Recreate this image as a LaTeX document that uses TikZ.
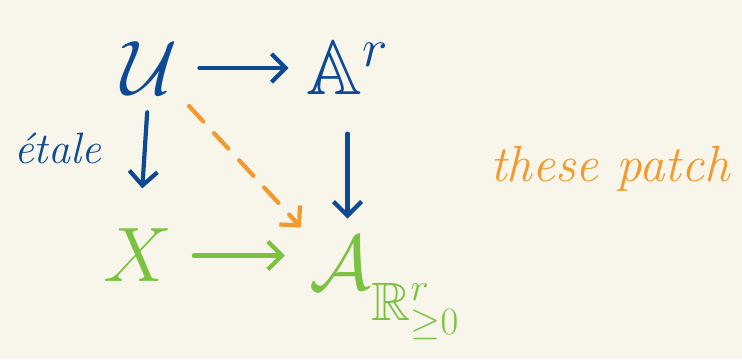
\documentclass[tikz,border=0pt]{standalone}
\usepackage{fix-cm}
\usepackage{fontspec}
\usepackage{amssymb}
\usepackage{xcolor}
\usepackage{tikz}
\usetikzlibrary{positioning,arrows.meta}
\definecolor{paper}{HTML}{F8F6EA}
\definecolor{inkblue}{HTML}{0E4A94}
\definecolor{inkgreen}{HTML}{7CC242}
\definecolor{inkorange}{HTML}{F29A2E}
\tikzset{
  object/.style={inner sep=2pt, font=\fontsize{44}{50}\selectfont},
  arrow/.style={line width=2.4pt, line cap=round, -{Straight Barb[length=8pt,width=16pt]}},
  dasharrow/.style={arrow, dash pattern=on 12pt off 9pt},
  annotation/.style={font=\fontsize{25}{30}\selectfont\itshape}
}

\begin{document}
\begin{tikzpicture}[node distance=3.75cm and 3.95cm, on grid]
  \fill[paper] (0,0) rectangle (14.84,7.18);
  \useasboundingbox (0,0) rectangle (14.84,7.18);
  % Nodes
  \node (U) [object, text=inkblue] at (3.0,5.82) {$\mathcal{U}$};
  \node (Ar) [object, text=inkblue, right=of U] {$\mathbb{A}^{r}$};
  \node (X) [object, text=inkgreen, below=of U, xshift=-0.24cm] {$X$};
  \node (calA) [object, text=inkgreen, below=4.4cm of Ar, xshift=0.75cm]
    {$\mathcal{A}_{\raisebox{-11pt}{$\scriptstyle\mathbb{R}^{r}_{\geq 0}$}}$};

  % Arrows
  \draw [arrow, inkblue, shorten <=10pt, shorten >=8pt] (U) -- (Ar);
  \draw [arrow, inkblue, shorten <=8pt, shorten >=21pt] (U) -- (X);
  \draw [arrow, inkblue, shorten <=20pt, shorten >=8pt] (Ar) -- (Ar |- calA.north);
  \draw [arrow, inkgreen, shorten <=10pt, shorten >=12pt] (X) -- (X -| calA.west);
  \draw [dasharrow, inkorange, shorten <=6pt, shorten >=4pt] (U.south east) -- (calA.north west);

  % Annotations
  \node (etale) [annotation, text=inkblue, left=1.85cm of U, yshift=-1.6cm] {étale};
  \node (patch) [annotation, text=inkorange, font=\fontsize{29}{34}\selectfont\itshape] at (12.2,3.8) {these patch};
\end{tikzpicture}
\end{document}
